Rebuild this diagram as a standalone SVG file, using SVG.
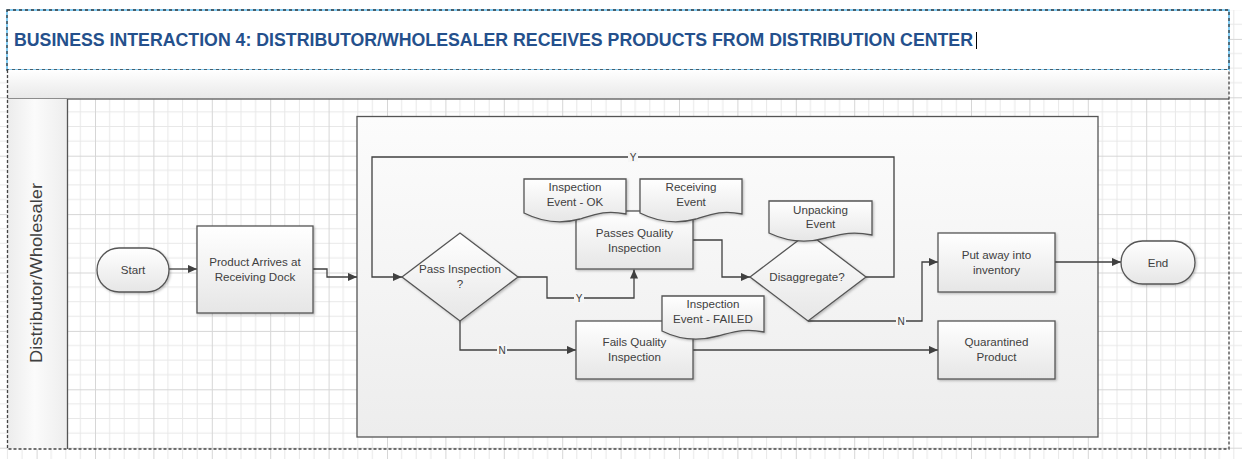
<svg xmlns="http://www.w3.org/2000/svg" width="1242" height="459" viewBox="0 0 1242 459">
<defs>
  <pattern id="grid" patternUnits="userSpaceOnUse" x="36.6" y="38.9" width="58.4" height="58.4">
    <g stroke="#e8e8e8" stroke-width="1">
      <line x1="14.6" y1="0" x2="14.6" y2="58.4"/>
      <line x1="29.2" y1="0" x2="29.2" y2="58.4"/>
      <line x1="43.8" y1="0" x2="43.8" y2="58.4"/>
      <line x1="0" y1="14.6" x2="58.4" y2="14.6"/>
      <line x1="0" y1="29.2" x2="58.4" y2="29.2"/>
      <line x1="0" y1="43.8" x2="58.4" y2="43.8"/>
    </g>
    <g stroke="#d6d6d6" stroke-width="1">
      <line x1="0.5" y1="0" x2="0.5" y2="58.4"/>
      <line x1="0" y1="0.5" x2="58.4" y2="0.5"/>
    </g>
  </pattern>
  <linearGradient id="band" x1="0" y1="0" x2="0" y2="1">
    <stop offset="0" stop-color="#ffffff"/>
    <stop offset="1" stop-color="#e8e8e8"/>
  </linearGradient>
  <linearGradient id="col" x1="0" y1="0" x2="1" y2="0">
    <stop offset="0" stop-color="#ececec"/>
    <stop offset="0.45" stop-color="#fbfbfb"/>
    <stop offset="1" stop-color="#ededed"/>
  </linearGradient>
  <linearGradient id="grp" x1="0" y1="0" x2="0" y2="1">
    <stop offset="0" stop-color="#fcfcfc"/>
    <stop offset="1" stop-color="#ededed"/>
  </linearGradient>
  <linearGradient id="node" x1="0" y1="0" x2="0" y2="1">
    <stop offset="0" stop-color="#ffffff"/>
    <stop offset="1" stop-color="#e6e6e6"/>
  </linearGradient>
  <filter id="sh" x="-10%" y="-10%" width="125%" height="130%">
    <feDropShadow dx="1.2" dy="1.2" stdDeviation="0.8" flood-color="#000" flood-opacity="0.25"/>
  </filter>
  <marker id="arr" viewBox="0 0 10 10" refX="10" refY="5" markerWidth="9" markerHeight="9" markerUnits="userSpaceOnUse" orient="auto">
    <path d="M0,0.5 L10,5 L0,9.5 Z" fill="#404040"/>
  </marker>
  <style>
    .shape { fill: url(#node); stroke: #555; stroke-width: 1.3; filter: url(#sh); }
    .doc { fill: url(#node); stroke: #555; stroke-width: 1.3; filter: url(#sh); }
    .t { font-family: "Liberation Sans", Arial, sans-serif; font-size: 11.6px; fill: #404040; text-anchor: middle; }
    .lbl { font-family: "Liberation Sans", Arial, sans-serif; font-size: 10px; fill: #404040; text-anchor: middle; }
    .conn path { fill: none; stroke: #404040; stroke-width: 1.3; }
    .lblbg { fill: #f6f6f6; }
    .dash { fill: none; stroke: #444; stroke-width: 1.3; stroke-dasharray: 3 2; }
  </style>
</defs>

<!-- page grid -->
<rect x="0" y="0" width="1242" height="459" fill="#ffffff"/>
<rect x="0" y="0" width="1242" height="459" fill="url(#grid)"/>

<!-- title -->
<g id="title">
  <rect x="0" y="0" width="1242" height="10" fill="#ffffff"/>
  <rect x="0" y="0" width="7" height="70" fill="#ffffff"/>
  <rect x="7" y="10" width="1222" height="60" fill="#ffffff"/>
  <rect x="7" y="10" width="1222" height="60" fill="none" stroke="#3fb2ef" stroke-width="1.3"/>
  <rect x="7" y="10" width="1222" height="60" fill="none" stroke="#3a3a3a" stroke-width="1.3" stroke-dasharray="3 3"/>
  <text x="14" y="46" font-family="'Liberation Sans', Arial, sans-serif" font-size="17.7" font-weight="bold" fill="#24508c" textLength="959" lengthAdjust="spacingAndGlyphs">BUSINESS INTERACTION 4: DISTRIBUTOR/WHOLESALER RECEIVES PRODUCTS FROM DISTRIBUTION CENTER</text>
  <line x1="976.5" y1="32" x2="976.5" y2="49" stroke="#000" stroke-width="1"/>
</g>

<!-- swimlane -->
<g id="lane">
  <rect x="7.5" y="70" width="1221.5" height="29" fill="url(#band)"/>
  <line x1="7.5" y1="99" x2="1229" y2="99" stroke="#6e6e6e" stroke-width="1.3"/>
  <rect x="7.5" y="99" width="60" height="350" fill="url(#col)"/>
  <line x1="67.5" y1="99" x2="67.5" y2="449" stroke="#555" stroke-width="1.3"/>
  <path class="dash" d="M7.5,70 V449 H1229 V70"/>
  <text x="0" y="0" transform="translate(42,273) rotate(-90)" font-family="'Liberation Sans', Arial, sans-serif" font-size="16.5" fill="#404040" text-anchor="middle" textLength="180" lengthAdjust="spacingAndGlyphs">Distributor/Wholesaler</text>
</g>

<!-- group container -->
<g id="container">
  <rect x="357" y="116.5" width="741" height="320.5" fill="url(#grp)" stroke="#555" stroke-width="1.3"/>
</g>

<!-- connectors -->
<g id="connectors" class="conn">
  <path d="M169,269 H197" marker-end="url(#arr)"/>
  <path d="M313,269 H327 V277 H357" marker-end="url(#arr)"/>
  <path d="M865,277 H894 V157 H372 V277 H402" marker-end="url(#arr)"/>
  <path d="M518,277 H547 V298 H634 V269.5" marker-end="url(#arr)"/>
  <path d="M460,321 V350 H576" marker-end="url(#arr)"/>
  <path d="M693,240 H722 V277 H750" marker-end="url(#arr)"/>
  <path d="M808,321 H922 V262 H938" marker-end="url(#arr)"/>
  <path d="M1055,262 H1121" marker-end="url(#arr)"/>
  <path d="M693,350 H938" marker-end="url(#arr)"/>
  <rect class="lblbg" x="628" y="151" width="10" height="11"/>
  <text class="lbl" x="633" y="160.5">Y</text>
  <rect class="lblbg" x="574" y="292" width="10" height="11"/>
  <text class="lbl" x="579" y="301.5">Y</text>
  <rect class="lblbg" x="497" y="344" width="10" height="11"/>
  <text class="lbl" x="502" y="353.5">N</text>
  <rect class="lblbg" x="896" y="315" width="10" height="11"/>
  <text class="lbl" x="901" y="324.5">N</text>
</g>

<!-- nodes -->
<g id="start">
  <rect class="shape" x="97" y="248" width="72" height="44" rx="22" ry="22"/>
  <text class="t" x="133" y="274">Start</text>
</g>
<g id="product-arrives">
  <rect class="shape" x="197" y="226" width="116" height="87"/>
  <text class="t" x="255" y="266">Product Arrives at</text>
  <text class="t" x="255" y="281">Receiving Dock</text>
</g>
<g id="pass-inspection">
  <path class="shape" d="M402,277 L460,233 L518,277 L460,321 Z"/>
  <text class="t" x="460" y="273">Pass Inspection</text>
  <text class="t" x="460" y="288">?</text>
</g>
<g id="passes-quality">
  <rect class="shape" x="576" y="211" width="117" height="58"/>
  <text class="t" x="634.5" y="237">Passes Quality</text>
  <text class="t" x="634.5" y="252">Inspection</text>
</g>
<g id="doc-inspection-ok">
  <path class="doc" d="M524,179 H626 V214 C606,210 596,214 580,219 C562,224 542,222 524,213 Z"/>
  <text class="t" x="575" y="191">Inspection</text>
  <text class="t" x="575" y="206">Event - OK</text>
</g>
<g id="doc-receiving">
  <path class="doc" d="M640,179 H742 V214 C722,210 712,214 696,219 C678,224 658,222 640,213 Z"/>
  <text class="t" x="691" y="191">Receiving</text>
  <text class="t" x="691" y="206">Event</text>
</g>
<g id="fails-quality">
  <rect class="shape" x="576" y="321" width="117" height="58"/>
  <text class="t" x="634.5" y="346">Fails Quality</text>
  <text class="t" x="634.5" y="361">Inspection</text>
</g>
<g id="doc-inspection-failed">
  <path class="doc" d="M662,296 H764 V332 C744,328 734,332 718,336 C700,341 680,340 662,331 Z"/>
  <text class="t" x="713" y="308">Inspection</text>
  <text class="t" x="713" y="323">Event - FAILED</text>
</g>
<g id="disaggregate">
  <path class="shape" d="M750,277 L808,233 L866,277 L808,321 Z"/>
  <text class="t" x="807" y="281">Disaggregate?</text>
</g>
<g id="doc-unpacking">
  <path class="doc" d="M769,201 H872 V235 C852,231 842,234 826,238 C808,243 788,242 769,233 Z"/>
  <text class="t" x="820.5" y="214">Unpacking</text>
  <text class="t" x="820.5" y="228">Event</text>
</g>
<g id="put-away">
  <rect class="shape" x="938" y="233" width="117" height="59"/>
  <text class="t" x="996.5" y="259">Put away into</text>
  <text class="t" x="996.5" y="274">inventory</text>
</g>
<g id="quarantined">
  <rect class="shape" x="938" y="321" width="117" height="58"/>
  <text class="t" x="996.5" y="346">Quarantined</text>
  <text class="t" x="996.5" y="361">Product</text>
</g>
<g id="end">
  <rect class="shape" x="1121" y="241" width="74" height="43" rx="21.5" ry="21.5"/>
  <text class="t" x="1158" y="267">End</text>
</g>
</svg>
